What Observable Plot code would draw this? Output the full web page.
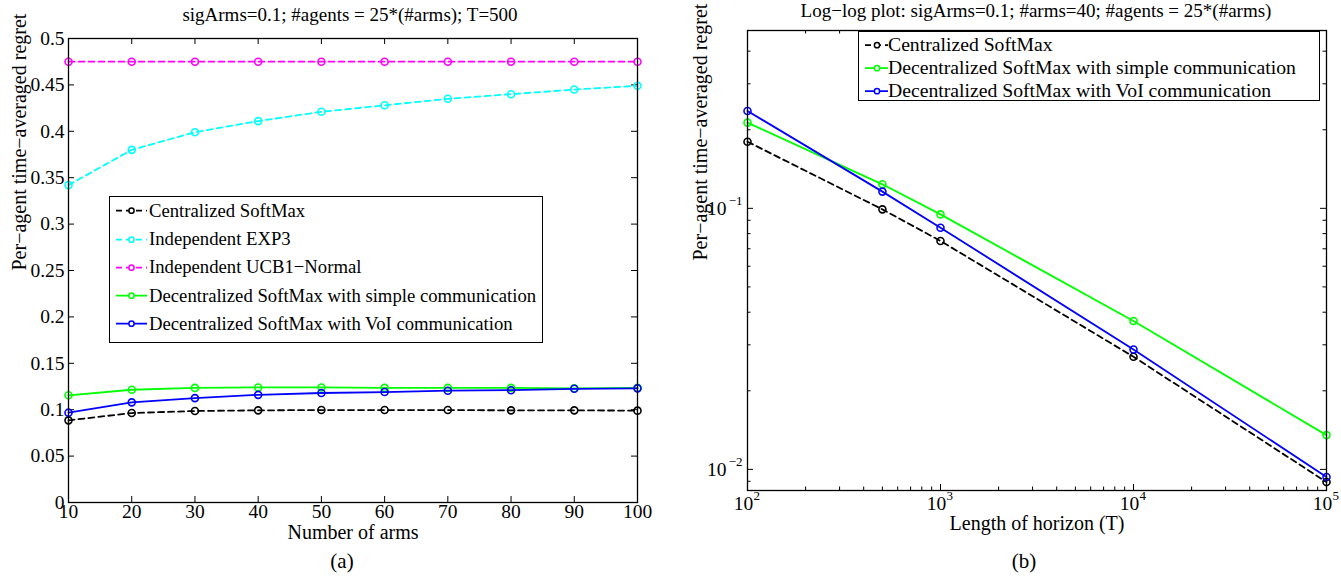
<!DOCTYPE html>
<html><head><meta charset="utf-8">
<script src="https://cdn.jsdelivr.net/npm/d3@7"></script>
<script src="https://cdn.jsdelivr.net/npm/@observablehq/plot@0.6"></script>
<style>
html,body{margin:0;padding:0;background:#fff}
#root{position:relative;width:1341px;height:580px;overflow:hidden;font-family:"Liberation Serif","Times New Roman",serif;color:#000}
.t{position:absolute;white-space:nowrap;transform:translate(-50%,-50%);line-height:1}
.lg{position:absolute;border:1.2px solid #000;background:#fff;box-sizing:border-box}
.lg .r{position:absolute;left:0;display:flex;align-items:center;white-space:nowrap;line-height:1;transform:translateY(-50%)}
.lg svg{display:block;flex:none}
.pl{position:absolute;top:0}
</style></head><body><div id="root"></div>
<script>
// ---------- data: panel (a) ----------
const arms = [10, 20, 30, 40, 50, 60, 70, 80, 90, 100];
const centralizedA = [0.0885, 0.0964, 0.0986, 0.0993, 0.0996, 0.0996, 0.0996, 0.0993, 0.0993, 0.0990];
const exp3A        = [0.342, 0.380, 0.399, 0.411, 0.421, 0.428, 0.435, 0.440, 0.445, 0.449];
const ucbA         = [0.475, 0.475, 0.475, 0.475, 0.475, 0.475, 0.475, 0.475, 0.475, 0.475];
const simpleA      = [0.1155, 0.1215, 0.1235, 0.1240, 0.1240, 0.1235, 0.1235, 0.1235, 0.1230, 0.1235];
const voiA         = [0.0968, 0.1079, 0.1125, 0.1160, 0.1180, 0.1190, 0.1205, 0.1210, 0.1225, 0.1230];
const armTicks = [10, 20, 30, 40, 50, 60, 70, 80, 90, 100];
const regretTicksA = [0, 0.05, 0.1, 0.15, 0.2, 0.25, 0.3, 0.35, 0.4, 0.45, 0.5];

// ---------- data: panel (b) ----------
const horizon = [100, 500, 1000, 10000, 100000];
const centralizedB = [0.180, 0.0991, 0.0750, 0.0270, 0.00894];
const simpleB      = [0.213, 0.1236, 0.0948, 0.0370, 0.01353];
const voiB         = [0.236, 0.1159, 0.0843, 0.0288, 0.00935];
const horizonTicks = [100, 1000, 10000, 100000];
const horizonExponents = ["2", "3", "4", "5"];
const regretTicksB = [0.01, 0.1];
const regretExponentsB = ["−2", "−1"];

// ---------- series names & styles ----------
const seriesNames = ["Centralized SoftMax", "Independent EXP3", "Independent UCB1−Normal",
  "Decentralized SoftMax with simple communication", "Decentralized SoftMax with VoI communication"];
const seriesColors = ["#000000", "#00ffff", "#ff00ff", "#00ff00", "#0000ff"];
const seriesDash = ["6,4", "6,4", "6,4", null, null];

const titleA = "sigArms=0.1; #agents = 25*(#arms); T=500";
const titleB = "Log−log plot: sigArms=0.1; #arms=40; #agents = 25*(#arms)";
const xLabelA = "Number of arms", xLabelB = "Length of horizon (T)";
const yLabel = "Per−agent time−averaged regret";

// minor log ticks (axis decoration)
const decadesX = [100, 1000, 10000];
const minorX = decadesX.flatMap(d => d3.range(2, 10).map(k => k * d));
const minorY = [0.009, ...d3.range(2, 10).map(k => k / 100), 0.2, 0.3, 0.4];

const FONT = '"Liberation Serif","Times New Roman",serif';
const root = document.getElementById("root");

function seriesMarks(xs, valuesList, idx) {
  const marks = [];
  idx.forEach(i => {
    const rows = xs.map((x, j) => ({x, y: valuesList[i][j], series: seriesNames[i]}));
    const opt = {x: "x", y: "y", stroke: seriesColors[i], strokeWidth: 1.8};
    if (seriesDash[i]) opt.strokeDasharray = seriesDash[i];
    marks.push(Plot.line(rows, opt));
    marks.push(Plot.dot(rows, {x: "x", y: "y", r: 3.5, stroke: seriesColors[i], strokeWidth: 1.6, fill: "none"}));
  });
  return marks;
}

// ---------- panel (a) ----------
const A = {w: 680, h: 548, mt: 38, mr: 43, mb: 46, ml: 68};
const aiw = A.w - A.ml - A.mr, aih = A.h - A.mt - A.mb;
const valuesA = [centralizedA, exp3A, ucbA, simpleA, voiA];
const plotA = Plot.plot({
  width: A.w, height: A.h, marginTop: A.mt, marginRight: A.mr, marginBottom: A.mb, marginLeft: A.ml,
  style: {fontFamily: FONT, fontSize: "19.5px", background: "transparent", overflow: "visible", color: "#000"},
  x: {domain: [10, 100]},
  y: {domain: [0, 0.5]},
  marks: [
    Plot.axisX(armTicks, {tickSize: 0, tickPadding: 2, label: null, tickFormat: d => String(d)}),
    Plot.axisY(regretTicksA, {tickSize: 0, tickPadding: 4, label: null, tickFormat: d => String(d)}),
    Plot.ruleX(armTicks, {x: d => d, insetTop: aih - 6, stroke: "#000"}),
    Plot.ruleX(armTicks, {x: d => d, insetBottom: aih - 6, stroke: "#000"}),
    Plot.ruleY(regretTicksA, {y: d => d, insetRight: aiw - 6, stroke: "#000"}),
    Plot.ruleY(regretTicksA, {y: d => d, insetLeft: aiw - 6, stroke: "#000"}),
    ...seriesMarks(arms, valuesA, [0, 1, 2, 3, 4]),
    Plot.frame({stroke: "#000", strokeWidth: 1.3}),
    Plot.text([xLabelA], {frameAnchor: "bottom", dy: 36, fontSize: 20, text: d => d}),
    Plot.text([yLabel], {frameAnchor: "left", dx: -49, rotate: -90, fontSize: 20, text: d => d})
  ]
});
plotA.classList.add("pl");
plotA.style.left = "0px";
root.appendChild(plotA);

// ---------- panel (b) ----------
const B = {w: 661, h: 548, mt: 30, mr: 15, mb: 58, ml: 67};
const biw = B.w - B.ml - B.mr, bih = B.h - B.mt - B.mb;
const valuesB = [centralizedB, null, null, simpleB, voiB];
const plotB = Plot.plot({
  width: B.w, height: B.h, marginTop: B.mt, marginRight: B.mr, marginBottom: B.mb, marginLeft: B.ml,
  style: {fontFamily: FONT, fontSize: "19.5px", background: "transparent", overflow: "visible", color: "#000"},
  x: {type: "log", domain: [100, 100000], axis: null},
  y: {type: "log", domain: [0.0083, 0.48], axis: null},
  marks: [
    Plot.ruleX(horizonTicks, {x: d => d, insetTop: bih - 6, stroke: "#000"}),
    Plot.ruleX(horizonTicks, {x: d => d, insetBottom: bih - 6, stroke: "#000"}),
    Plot.ruleX(minorX, {x: d => d, insetTop: bih - 3.5, stroke: "#000"}),
    Plot.ruleX(minorX, {x: d => d, insetBottom: bih - 3.5, stroke: "#000"}),
    Plot.ruleY(regretTicksB, {y: d => d, insetRight: biw - 6, stroke: "#000"}),
    Plot.ruleY(regretTicksB, {y: d => d, insetLeft: biw - 6, stroke: "#000"}),
    Plot.ruleY(minorY, {y: d => d, insetRight: biw - 3.5, stroke: "#000"}),
    Plot.ruleY(minorY, {y: d => d, insetLeft: biw - 3.5, stroke: "#000"}),
    Plot.text(horizonTicks, {x: d => d, frameAnchor: "bottom", dy: 19, dx: -4, text: () => "10"}),
    Plot.text(horizonTicks, {x: d => d, frameAnchor: "bottom", dy: 9, dx: 6, textAnchor: "start", fontSize: 13,
      text: (d, i) => horizonExponents[i]}),
    Plot.text(regretTicksB, {y: d => d, frameAnchor: "left", dx: -21, textAnchor: "end", text: () => "10"}),
    Plot.text(regretTicksB, {y: d => d, frameAnchor: "left", dx: -5, dy: -8, textAnchor: "end", fontSize: 13,
      text: (d, i) => regretExponentsB[i]}),
    ...seriesMarks(horizon, valuesB, [0, 3, 4]),
    Plot.frame({stroke: "#000", strokeWidth: 1.3}),
    Plot.text([xLabelB], {frameAnchor: "bottom", dy: 39, fontSize: 20, text: d => d}),
    Plot.text([yLabel], {frameAnchor: "left", dx: -47, rotate: -90, fontSize: 20, text: d => d})
  ]
});
plotB.classList.add("pl");
plotB.style.left = "680px";
root.appendChild(plotB);

// ---------- titles & captions ----------
function addText(str, x, y, size) {
  const d = document.createElement("div");
  d.className = "t";
  d.textContent = str;
  d.style.left = x + "px"; d.style.top = y + "px"; d.style.fontSize = size + "px";
  root.appendChild(d);
}
addText(titleA, 350, 14, 19);
addText(titleB, 1036, 10, 19);
addText("(a)", 342, 561, 21);
addText("(b)", 1024, 561, 21);

// ---------- legends ----------
function legend(idx, box) {
  const lg = document.createElement("div");
  lg.className = "lg";
  Object.assign(lg.style, {left: box.left + "px", top: box.top + "px", width: box.width + "px", height: box.height + "px"});
  idx.forEach((i, k) => {
    const row = document.createElement("div");
    row.className = "r";
    row.style.top = (box.first + k * box.step) + "px";
    row.style.fontSize = box.fontSize + "px";
    const sw = box.sample;
    const ns = "http://www.w3.org/2000/svg";
    const svg = document.createElementNS(ns, "svg");
    svg.setAttribute("width", sw + box.gap); svg.setAttribute("height", 12);
    const ln = document.createElementNS(ns, "line");
    ln.setAttribute("x1", box.pad); ln.setAttribute("x2", box.pad + sw);
    ln.setAttribute("y1", 6); ln.setAttribute("y2", 6);
    ln.setAttribute("stroke", seriesColors[i]); ln.setAttribute("stroke-width", 1.8);
    if (seriesDash[i]) ln.setAttribute("stroke-dasharray", "6,4");
    svg.appendChild(ln);
    const c = document.createElementNS(ns, "circle");
    c.setAttribute("cx", box.pad + sw / 2); c.setAttribute("cy", 6); c.setAttribute("r", 2.6);
    c.setAttribute("fill", "#fff"); c.setAttribute("stroke", seriesColors[i]); c.setAttribute("stroke-width", 1.5);
    svg.appendChild(c);
    row.appendChild(svg);
    const sp = document.createElement("span");
    sp.textContent = seriesNames[i];
    row.appendChild(sp);
    lg.appendChild(row);
  });
  root.appendChild(lg);
}
legend([0, 1, 2, 3, 4], {left: 109, top: 196, width: 434, height: 147, first: 14, step: 28.2, fontSize: 18.7, sample: 31, pad: 6, gap: 8});
legend([0, 3, 4], {left: 858, top: 31, width: 462, height: 70, first: 13, step: 23, fontSize: 19.7, sample: 24, pad: 6, gap: 5});
</script></body></html>
